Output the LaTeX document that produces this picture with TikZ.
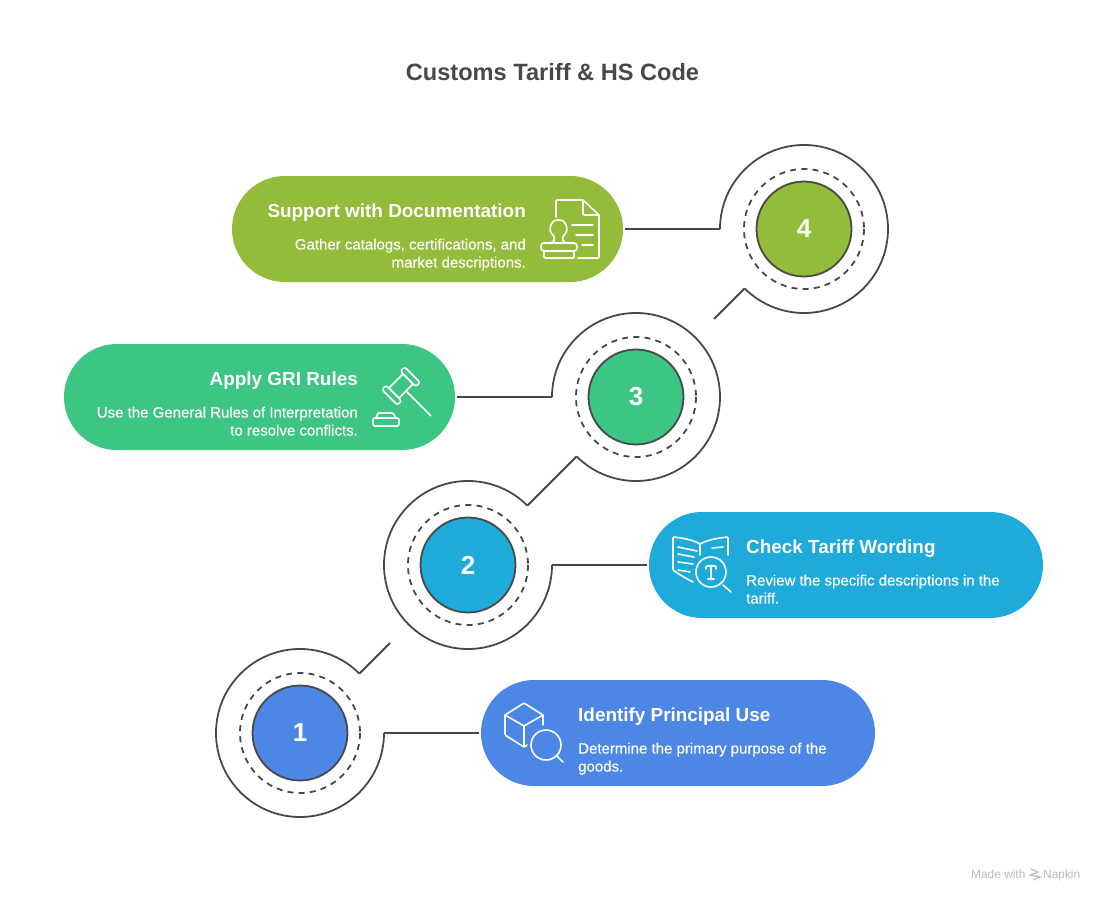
\documentclass[tikz,border=0pt]{standalone}
\usepackage{fontspec}
\setmainfont{Liberation Sans}
\definecolor{inkgray}{HTML}{484848}
\definecolor{stepblue}{HTML}{4C87E6}
\definecolor{stepcyan}{HTML}{1EABDA}
\definecolor{stepgreen}{HTML}{3CC583}
\definecolor{stepolive}{HTML}{92BC39}
\tikzset{
  numcircle/.style={circle,draw=inkgray,line width=1.8pt,minimum size=95pt,inner sep=0pt,text=white,font=\fontsize{26}{26}\selectfont\bfseries},
  pill/.style={rectangle,rounded corners=53pt,minimum width=#1,minimum height=106pt,inner sep=0pt,outer sep=2pt},
  ring/.style={draw=inkgray,line width=1.8pt},
  dashring/.style={draw=inkgray,line width=1.8pt,dash pattern=on 6pt off 5.2pt},
  link/.style={draw=inkgray,line width=2.2pt},
  heading/.style={inner sep=0pt,text=white,font=\fontsize{18.9}{18.9}\selectfont\bfseries},
  descr/.style={inner sep=0pt,text=white,font=\fontsize{15}{18}\selectfont\addfontfeature{FakeBold=0.2}},
  icon/.style={draw=white,line width=1.6pt,line cap=round,line join=round,rounded corners=1pt},
  credit/.style={text=black!27,anchor=base west,inner sep=0pt,font=\fontsize{11.9}{11.9}\selectfont}
}
\begin{document}
\begin{tikzpicture}[x=1pt,y=-1pt]
\useasboundingbox (0,0) rectangle (1104,902);
\node[text=inkgray,font=\fontsize{23.6}{23.6}\selectfont\bfseries] (title) at (552.5,72) {Customs Tariff \& HS Code};

\node[pill=394pt,fill=stepblue] (p1) at (678,733) {};
\node[pill=394pt,fill=stepcyan] (p2) at (846,565) {};
\node[pill=391pt,fill=stepgreen] (p3) at (259.5,397) {};
\node[pill=391pt,fill=stepolive] (p4) at (427.5,229) {};

\foreach \i/\x/\y/\c in {1/300/733/stepblue,2/468/565/stepcyan,3/636/397/stepgreen,4/804/229/stepolive}
\node[numcircle,fill=\c] (n\i) at (\x,\y) {\i};
\foreach \i in {1,2,3,4}
\draw[dashring] (n\i.center) circle[radius=60];

\coordinate (r1) at (384,733);
\coordinate (r2) at (552,565);
\coordinate (r3) at (552,397);
\coordinate (r4) at (720,229);
\coordinate (e1) at (390,643);
\coordinate (e4) at (714,319);
\foreach \i/\s/\e in {1/0/315,2/0/315,3/180/495,4/180/495}
\draw[ring] (r\i) arc[start angle=\s,end angle=\e,radius=84] coordinate (a\i);
\draw[link] (r1) -- (p1.west);
\draw[link] (r2) -- (p2.west);
\draw[link] (r3) -- (p3.east);
\draw[link] (r4) -- (p4.east);
\draw[ring] (a1) -- (e1);
\draw[ring] (a2) -- (a3);
\draw[ring] (a4) -- (e4);

\node[heading,anchor=base west] (h1) at (578,721) {Identify Principal Use};
\node[descr,anchor=north west,align=left] (t1) at (578,742.5) {Determine the primary purpose of the\\goods.};
\node[heading,anchor=base west] (h2) at (746,553) {Check Tariff Wording};
\node[descr,anchor=north west,align=left] (t2) at (746,574.5) {Review the specific descriptions in the\\tariff.};
\node[heading,anchor=base east] (h3) at (358,385) {Apply GRI Rules};
\node[descr,anchor=north east,align=right] (t3) at (358,406.5) {Use the General Rules of Interpretation\\to resolve conflicts.};
\node[heading,anchor=base east] (h4) at (526,217) {Support with Documentation};
\node[descr,anchor=north east,align=right] (t4) at (526,238.5) {Gather catalogs, certifications, and\\market descriptions.};

% cube and lens
\draw[icon] (524,703) -- (543,715) -- (524,726) -- (505,715) -- cycle;
\draw[icon] (505,715) -- (505,735) -- (524,747) -- (524,726);
\draw[icon] (524,747) -- (527,745);
\draw[icon] (543,715) -- (543,725);
\draw[icon] (546,745) circle[radius=15];
\draw[icon] (557,756) -- (563,762);

% book and lens
\draw[icon] (700,555) -- (700,544) .. controls (693,540) and (683,538) .. (673,537) -- (673,570) .. controls (680,575) and (687,579) .. (693,582);
\draw[icon] (700,544) .. controls (707,540) and (718,538) .. (728,537) -- (728,555);
\draw[icon] (678,547) -- (697,551) (678,554) -- (694,557) (678,562) -- (693,564) (678,570) -- (690,572) (712,548) -- (723,547);
\draw[icon] (711,572) circle[radius=15];
\draw[icon] (723,585) -- (731,592);
\draw[icon] (706,569) -- (706,566) -- (716,566) -- (716,569) (711,566) -- (711,579) (708,579) -- (714,579);

% gavel
\begin{scope}[shift={(401,386)},rotate=-45]
\draw[icon,rounded corners=2.5pt] (-11,-16) rectangle (11,-10);
\draw[icon,rounded corners=2.5pt] (-11,10) rectangle (11,16);
\draw[icon] (-7,-10) rectangle (7,10);
\draw[icon] (7,0) -- (42,0);
\end{scope}
\draw[icon] (376,418) -- (378,413) -- (393,413) -- (396,418);
\draw[icon,rounded corners=2pt] (373,426) -- (373,418) -- (399,418) -- (399,426) -- cycle;

% document and stamp
\draw[icon] (556,217) -- (556,200) -- (583,200) -- (599,215) -- (599,258) -- (578,258);
\draw[icon] (583,200) -- (583,215) -- (599,215);
\draw[icon] (572,225) -- (593,225) (576,235) -- (593,235) (582,245) -- (593,245);
\draw[icon] (549,243) .. controls (555,243) and (555,238) .. (553,235) .. controls (548,231) and (550,220) .. (558.5,220) .. controls (567,220) and (569,231) .. (564,235) .. controls (562,238) and (562,243) .. (568,243);
\draw[icon,rounded corners=3pt] (541,243) rectangle (577,251);
\draw[icon] (544,251) -- (544,258) -- (574,258) -- (574,251);

\node[credit] (made) at (971,878) {Made with};
\node[credit] (napkin) at (1043,878) {Napkin};
\draw[draw=black!27,line width=1.1pt] (1031,869) -- (1038,872) -- (1030,875) -- (1040,877) -- (1033,880);
\end{tikzpicture}
\end{document}
